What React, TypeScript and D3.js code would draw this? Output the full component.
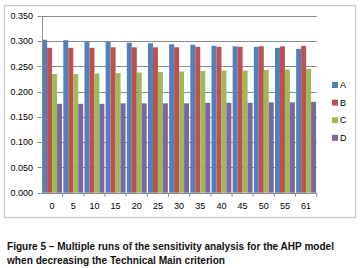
import React from "react";
import * as d3 from "d3";

const categories = ["0", "5", "10", "15", "20", "25", "30", "35", "40", "45", "50", "55", "61"];
const seriesNames = ["A", "B", "C", "D"];
const valuesA = [0.303, 0.302, 0.3, 0.299, 0.297, 0.296, 0.294, 0.293, 0.291, 0.29, 0.289, 0.287, 0.285];
const valuesB = [0.287, 0.287, 0.287, 0.288, 0.288, 0.288, 0.288, 0.289, 0.289, 0.289, 0.29, 0.29, 0.291];
const valuesC = [0.235, 0.235, 0.236, 0.237, 0.238, 0.239, 0.24, 0.241, 0.242, 0.242, 0.243, 0.244, 0.245];
const valuesD = [0.176, 0.176, 0.176, 0.177, 0.177, 0.177, 0.177, 0.178, 0.178, 0.178, 0.179, 0.179, 0.18];
const yTicks = [0, 0.05, 0.1, 0.15, 0.2, 0.25, 0.3, 0.35];
const colors = ["#4F81BD", "#C0504D", "#9BBB59", "#8064A2"];
const captionLines = [
  "Figure 5 \u2013 Multiple runs of the sensitivity analysis for the AHP model",
  "when decreasing the Technical Main criterion",
];

export default function App() {
  const W = 362, H = 268;
  const left = 41.5, right = 316.7, top = 16, bottom = 192.7;
  const series = [valuesA, valuesB, valuesC, valuesD];
  const x = d3.scaleBand().domain(categories).range([left, right]).paddingInner(0).paddingOuter(0);
  const x1 = d3.scaleBand().domain(seriesNames).range([0, x.bandwidth()]).paddingInner(0).paddingOuter(0.13);
  const y = d3.scaleLinear().domain([0, 0.35]).range([bottom, top]);
  const font = "Liberation Sans, Arial, sans-serif";
  return (
    <svg width={W} height={H} style={{ position: "absolute", left: 0, top: 0 }}>
      <rect x={0} y={0} width={W} height={H} fill="#fff" />
      <rect x={4.5} y={5.5} width={351} height={212} fill="#fff" stroke="#c8c8c8" strokeWidth={1.2} />
      {yTicks.map((t) => (
        <g key={t}>
          {t > 0 && (
            <line x1={left} x2={right} y1={Math.round(y(t)) + 0.5} y2={Math.round(y(t)) + 0.5} stroke="#8c8c8c" strokeWidth={1} />
          )}
          <line x1={left - 4} x2={left} y1={Math.round(y(t)) + 0.5} y2={Math.round(y(t)) + 0.5} stroke="#8c8c8c" />
          <text x={33} y={y(t)} dy="0.35em" textAnchor="end" fontSize={9} fontFamily={font} fill="#000">
            {t.toFixed(3)}
          </text>
        </g>
      ))}
      {categories.map((c, i) =>
        series.map((vals, s) => (
          <rect
            key={c + s}
            x={(x(c) as number) + (x1(seriesNames[s]) as number)}
            y={y(vals[i])}
            width={x1.bandwidth()}
            height={bottom - y(vals[i])}
            fill={colors[s]}
          />
        ))
      )}
      <line x1={Math.round(left) + 0.5} x2={Math.round(left) + 0.5} y1={top} y2={bottom} stroke="#8c8c8c" />
      <line x1={left} x2={right} y1={Math.round(bottom) + 0.5} y2={Math.round(bottom) + 0.5} stroke="#8c8c8c" />
      {categories.map((c, i) => (
        <line key={"t" + c} x1={(x(c) as number) + x.bandwidth()} x2={(x(c) as number) + x.bandwidth()} y1={bottom} y2={bottom + 4} stroke="#8c8c8c" />
      ))}
      {categories.map((c) => (
        <text key={"l" + c} x={(x(c) as number) + x.bandwidth() / 2} y={206} dy="0.35em" textAnchor="middle" fontSize={9} fontFamily={font}>
          {c}
        </text>
      ))}
      {seriesNames.map((n, s) => (
        <g key={n} transform={`translate(332, ${85 + s * 17.6})`}>
          <rect x={0} y={-3} width={6} height={6} fill={colors[s]} />
          <text x={8} y={0} dy="0.35em" fontSize={9} fontFamily={font}>
            {n}
          </text>
        </g>
      ))}
      {captionLines.map((l, i) => (
        <text
          key={i}
          x={7}
          y={249.5 + i * 14.5}
          fontSize={10.5}
          fontWeight="bold"
          fontFamily={font}
          fill="#111"
          textLength={i === 0 ? 327 : 218}
          lengthAdjust="spacingAndGlyphs"
        >
          {l}
        </text>
      ))}
    </svg>
  );
}
